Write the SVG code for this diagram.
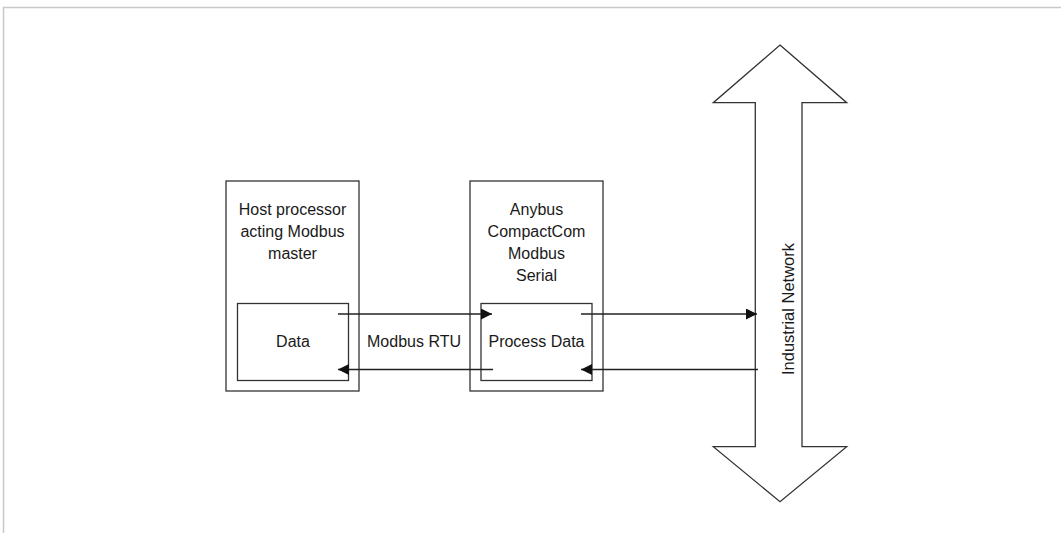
<svg xmlns="http://www.w3.org/2000/svg" width="1061" height="533" viewBox="0 0 1061 533">
<defs>
<style>
.box{fill:#fff;stroke:#333;stroke-width:1.3}
.ln{stroke:#222;stroke-width:1.3;fill:none}
.t{font-family:"Liberation Sans",Arial,sans-serif;font-size:16px;fill:#1a1a1a;text-anchor:middle}
</style>
<marker id="ah" viewBox="0 0 10 10" refX="10" refY="5" markerWidth="11" markerHeight="11" markerUnits="userSpaceOnUse" orient="auto">
<path d="M0,0 L10,5 L0,10 z" fill="#111"/>
</marker>
</defs>
<rect width="1061" height="533" fill="#fff"/>
<path d="M3.5,533 V7.5 H1061" fill="none" stroke="#c8c8c8" stroke-width="1.5"/>
<g id="host">
<rect class="box" x="226" y="181" width="133" height="210"/>
<text class="t" x="292.5" y="215">Host processor</text>
<text class="t" x="292.5" y="237">acting Modbus</text>
<text class="t" x="292.5" y="259">master</text>
</g>
<g id="data">
<rect class="box" x="237.5" y="303.5" width="111" height="77"/>
<text class="t" x="293" y="347">Data</text>
</g>
<g id="anybus">
<rect class="box" x="470" y="181" width="133" height="210"/>
<text class="t" x="536.5" y="215">Anybus</text>
<text class="t" x="536.5" y="237">CompactCom</text>
<text class="t" x="536.5" y="259">Modbus</text>
<text class="t" x="536.5" y="281">Serial</text>
</g>
<g id="processdata">
<rect class="box" x="481" y="303.5" width="111" height="77"/>
<text class="t" x="536.5" y="347">Process Data</text>
</g>
<g id="network">
<path class="box" d="M780,45 L846.7,102.7 L802,102.7 L802,446.7 L846.7,446.7 L780,501.7 L713.3,446.7 L755.3,446.7 L755.3,102.7 L713.3,102.7 Z"/>
<text class="t" style="font-size:16.5px" transform="translate(793.5,309) rotate(-90)">Industrial Network</text>
</g>
<g id="label-rtu">
<text class="t" x="414" y="347">Modbus RTU</text>
</g>
<g id="connectors">
<line class="ln" x1="338" y1="314" x2="492" y2="314" marker-end="url(#ah)"/>
<line class="ln" x1="493" y1="369.5" x2="338" y2="369.5" marker-end="url(#ah)"/>
<line class="ln" x1="581" y1="314" x2="757" y2="314" marker-end="url(#ah)"/>
<line class="ln" x1="758" y1="369.5" x2="581" y2="369.5" marker-end="url(#ah)"/>
</g>
</svg>
